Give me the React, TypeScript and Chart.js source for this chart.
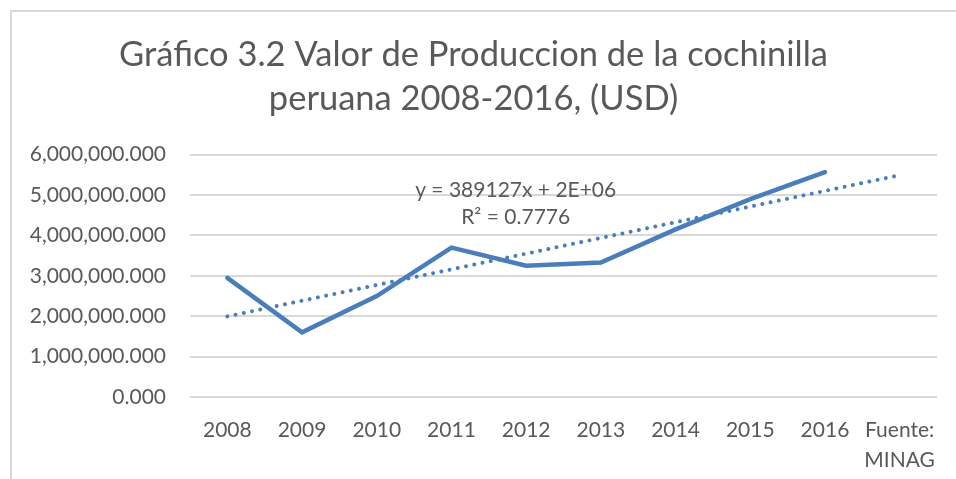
import React, { useEffect, useRef } from "react";
import { Chart, registerables } from "chart.js";

Chart.register(...registerables);

const categories: (string | string[])[] = ["2008", "2009", "2010", "2011", "2012", "2013", "2014", "2015", "2016", ["Fuente:", "MINAG"]];
const values: (number | null)[] = [2950000, 1600000, 2500000, 3700000, 3250000, 3330000, 4150000, 4900000, 5570000, null];
const yTicks = [0, 1000000, 2000000, 3000000, 4000000, 5000000, 6000000];
const titleLines = ["Gráfico 3.2 Valor de Produccion de la cochinilla", "peruana 2008-2016, (USD)"];
const trendLabel = ["y = 389127x + 2E+06", "R² = 0.7776"];

const FONT = "Lato, 'Open Sans', sans-serif";
const TEXT = "#595959";
const BLUE = "#4a7ebb";
const GRID = "#d9d9d9";

function linearTrend(ys: (number | null)[], n: number): number[] {
  const pts: [number, number][] = [];
  ys.forEach((v, i) => { if (v !== null) pts.push([i + 1, v]); });
  const mx = pts.reduce((s, p) => s + p[0], 0) / pts.length;
  const my = pts.reduce((s, p) => s + p[1], 0) / pts.length;
  let num = 0, den = 0;
  pts.forEach(([x, y]) => { num += (x - mx) * (y - my); den += (x - mx) * (x - mx); });
  const slope = num / den;
  const b = my - slope * mx;
  return Array.from({ length: n }, (_, i) => slope * (i + 1) + b);
}

const borderPlugin = {
  id: "frame",
  beforeDraw(chart: any) {
    const ctx = chart.ctx;
    ctx.save();
    ctx.fillStyle = "#ffffff";
    ctx.fillRect(0, 0, chart.width, chart.height);
    ctx.strokeStyle = GRID;
    ctx.lineWidth = 2;
    ctx.beginPath();
    ctx.moveTo(11, chart.height);
    ctx.lineTo(11, 11);
    ctx.lineTo(chart.width, 11);
    ctx.stroke();
    ctx.restore();
  },
};

const trendLabelPlugin = {
  id: "trendLabel",
  afterDatasetsDraw(chart: any) {
    const x = chart.scales.x;
    const y = chart.scales.y;
    const p3 = x.getPixelForTick(3);
    const p4 = x.getPixelForTick(4);
    const cx = p3 + (p4 - p3) * 0.86;
    const ctx = chart.ctx;
    ctx.save();
    ctx.fillStyle = TEXT;
    ctx.font = `21px ${FONT}`;
    ctx.textAlign = "center";
    ctx.textBaseline = "middle";
    ctx.fillText(trendLabel[0], cx, y.getPixelForValue(5130000));
    ctx.fillText(trendLabel[1], cx, y.getPixelForValue(4440000));
    ctx.restore();
  },
};

export default function App() {
  const ref = useRef<HTMLCanvasElement | null>(null);
  useEffect(() => {
    if (!ref.current) return;
    const trend = linearTrend(values, categories.length);
    const chart = new Chart(ref.current, {
      type: "line",
      data: {
        labels: categories as any,
        datasets: [
          {
            label: "Valor",
            data: values,
            borderColor: BLUE,
            borderWidth: 4.5,
            pointRadius: 0,
            borderCapStyle: "round",
            borderJoinStyle: "miter",
            spanGaps: false,
          },
          {
            label: "Tendencia",
            data: trend,
            borderColor: BLUE,
            borderWidth: 4,
            pointRadius: 0,
            borderDash: [0.01, 8.4],
            borderCapStyle: "round",
          },
        ],
      },
      options: {
        animation: false,
        responsive: false,
        devicePixelRatio: 1,
        layout: { padding: { left: 10, right: 19, top: 0, bottom: 0 } },
        plugins: {
          legend: { display: false },
          tooltip: { enabled: false },
          title: {
            display: true,
            text: titleLines,
            color: TEXT,
            font: { family: FONT, size: 34.5, weight: "normal", lineHeight: 1.3 },
            padding: { top: 32, bottom: 33 },
          },
        },
        scales: {
          x: {
            offset: true,
            grid: { display: false, drawTicks: false },
            border: { display: false },
            ticks: {
              color: TEXT,
              font: { family: FONT, size: 21, lineHeight: 1.4 },
              padding: 19,
              maxRotation: 0,
              autoSkip: false,
            },
            afterFit(scale: any) { scale.height = 82; },
          },
          y: {
            min: 0,
            max: 6000000,
            afterBuildTicks(scale: any) { scale.ticks = yTicks.map((v) => ({ value: v })); },
            grid: { color: GRID, lineWidth: 2, drawTicks: false },
            border: { display: false },
            ticks: {
              color: TEXT,
              font: { family: FONT, size: 21 },
              padding: 24,
              callback: (v: any) => Number(v).toLocaleString("en-US", { minimumFractionDigits: 3, maximumFractionDigits: 3 }),
            },
            afterFit(scale: any) { scale.width = 180; },
          },
        },
      },
      plugins: [borderPlugin, trendLabelPlugin],
    });
    return () => chart.destroy();
  }, []);
  return (
    <div style={{ position: "fixed", left: 0, top: 0, width: 956, height: 479, background: "#fff" }}>
      <canvas ref={ref} width={956} height={479} style={{ display: "block", width: 956, height: 479 }} />
    </div>
  );
}
